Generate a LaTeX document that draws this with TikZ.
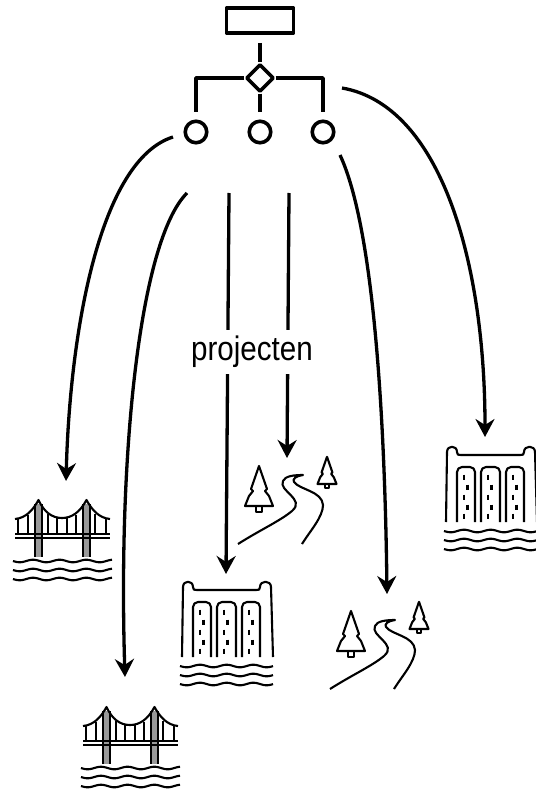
\documentclass[tikz,border=0pt]{standalone}
\usepackage{fontspec}
\setmainfont{Liberation Sans}
\usetikzlibrary{arrows.meta}
\tikzset{every picture/.style={line join=round}}
\tikzset{org/.style={line width=3.6pt}}
\tikzset{flow/.style={line width=3.3pt, -{Stealth[length=18pt,width=19pt,inset=6pt]}}}
\tikzset{icon/.style={line width=2.1pt}}
\tikzset{waves/.pic={
    \foreach \y in {0,9,18} {
        \draw[icon] plot[domain=0:#1, samples=45, smooth] (\x, {\y + 1.3*sin(\x*13.5)});
    }
}}
\tikzset{tree/.pic={
    \draw[icon] (0,-40) -- (-8,-17) -- (-6,-15) -- (-10,-10) -- (-14,0) -- (14,0) -- (10,-10) -- (6,-15) -- (8,-17) -- cycle;
    \draw[icon] (-3,0) -- (-3,6) -- (3,6) -- (3,0);
}}
\tikzset{river/.pic={
    \pic at (29,61) {tree};
    \pic[scale=0.68] at (97,39) {tree};
    \draw[icon] (8,99) .. controls (30,85) and (50,76) .. (62,66)
        .. controls (76,54) and (48,46) .. (53,36)
        .. controls (55,31) and (64,30) .. (73,30)
        .. controls (66,31) and (62,34) .. (64,37)
        .. controls (70,45) and (92,46) .. (93,60)
        .. controls (93,72) and (80,86) .. (72,99);
}}
\tikzset{dam/.pic={
    \draw[icon] (12,87) -- (13,17) .. controls (13,10) and (23,10) .. (23,17)
        .. controls (23,20) and (24,20) .. (27,20) -- (86,20)
        .. controls (89,20) and (90,20) .. (90,17)
        .. controls (90,10) and (101,10) .. (101,17) -- (103,87);
    \foreach \a/\b in {23/41,47/66,72/90} {
        \draw[icon, rounded corners=5pt] (\a,87) -- (\a,32) -- (\b,32) -- (\b,87);
    }
    \foreach \a in {30,54,79} {
        \foreach \p/\q in {0/42,3.5/52,0/62,3.5/72,0/81} {
            \draw[line width=2.6pt] (\a+\p,\q-2.5) -- (\a+\p,\q+2.5);
        }
    }
    \pic at (10,96) {waves=93};
}}
\tikzset{bridge/.pic={
    \fill[gray!80] (35,14) rectangle (42,67);
    \fill[gray!80] (83,14) rectangle (90,67);
    \draw[icon] (15,44) -- (110,44);
    \draw[icon] (15,48) -- (110,48);
    \foreach \a in {35,42,83,90} {
        \draw[line width=1.7pt] (\a,14) -- (\a,67);
    }
    \draw[icon] (15,29) .. controls (26,28) and (33,20) .. (38.5,10)
        .. controls (44,22) and (52,28) .. (62,28)
        .. controls (72,28) and (80,22) .. (86.5,10)
        .. controls (92,20) and (99,28) .. (110,29);
    \foreach \a/\t in {18/29,28/25,48/24,57/28,67/28,76/25,95/24,106/29} {
        \draw[icon] (\a,\t) -- (\a,44);
    }
    \pic at (13,71) {waves=99};
}}

\begin{document}
\begin{tikzpicture}[x=1pt,y=-1pt]
\useasboundingbox (0,0) rectangle (535,791);

% org chart
\node[org, draw, minimum width=67pt, minimum height=25pt, inner sep=0pt] (top) at (260,20.5) {};
\node[org, draw, rotate=45, minimum size=18.5pt, inner sep=0pt] (split) at (260,78) {};
\foreach \n/\x in {ca/196,cb/260,cc/323} {
    \node[org, draw, circle, minimum size=21.5pt, inner sep=0pt] (\n) at (\x,132) {};
    \coordinate (\n-up) at (\x,112);
}
\coordinate (stub) at (260,43);
\draw[org] (stub) -- (split.north east);
\draw[org] (split.south west) -- (cb-up);
\draw[org] (split.north west) -| (ca-up);
\draw[org] (split.south east) -| (cc-up);

% start and end points of the arrows
\foreach \n/\x/\y in {sa/173/137,sb/187/193,sc/229/193,sd/289/193,se/340/155,sf/342/88,
    ea/66/481,eb/125/677,ec/226/574,ed/287/458,ee/387/594,ef/485/437} {
    \coordinate (\n) at (\x,\y);
}
\draw[flow] (sa) .. controls (100,160) and (70,330) .. (ea);
\draw[flow] (sb) .. controls (140,240) and (118,450) .. (eb);
\draw[flow] (sc) -- (ec);
\draw[flow] (sd) -- (ed);
\draw[flow] (se) .. controls (375,230) and (385,430) .. (ee);
\draw[flow] (sf) .. controls (440,105) and (485,260) .. (ef);

\node[fill=white, inner xsep=1pt, inner ysep=6pt, font=\fontsize{34}{35}\selectfont, xscale=0.87] (label) at (252,352) {projecten};

% icons
\pic at (0,490) {bridge};
\pic at (68,697) {bridge};
\pic at (170,570) {dam};
\pic at (434,435) {dam};
\pic at (230,445) {river};
\pic at (322,590) {river};
\end{tikzpicture}
\end{document}
